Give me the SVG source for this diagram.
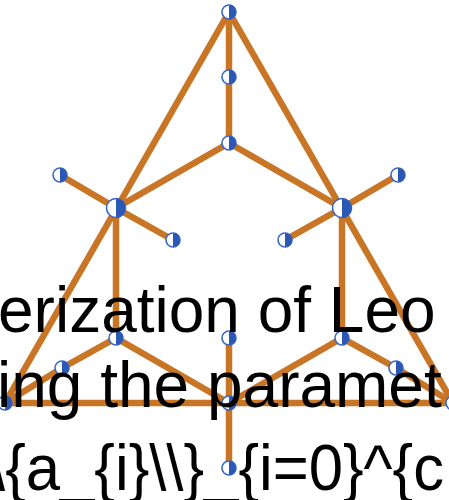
<svg xmlns="http://www.w3.org/2000/svg" width="449" height="500" viewBox="0 0 449 500">
<style>
.e{stroke:#c97526;stroke-width:6.5;fill:none;stroke-linecap:round}
.nc{fill:#fff;stroke:#3b68c4;stroke-width:1.6}
.nh{fill:#2c58b5}
.t{font-family:"Liberation Sans",Arial,sans-serif;font-size:64px;fill:#000}
</style>
<defs>
<g id="s"><circle class="nc" r="7"/><path class="nh" d="M0,-7A7,7 0 0 1 0,7Z"/></g>
<g id="b"><circle class="nc" r="9.5"/><path class="nh" d="M0,-9.5A9.5,9.5 0 0 1 0,9.5Z"/></g>
</defs>
<rect width="449" height="500" fill="#fff"/>
<g id="connectors">
<line class="e" x1="229" y1="12" x2="5" y2="403"/>
<line class="e" x1="229" y1="12" x2="453" y2="403"/>
<line class="e" x1="229" y1="12" x2="229" y2="143"/>
<line class="e" x1="229" y1="143" x2="116" y2="208"/>
<line class="e" x1="229" y1="143" x2="342" y2="208"/>
<line class="e" x1="116" y1="208" x2="60" y2="175"/>
<line class="e" x1="116" y1="208" x2="173" y2="240"/>
<line class="e" x1="342" y1="208" x2="398" y2="175"/>
<line class="e" x1="342" y1="208" x2="285" y2="240"/>
<line class="e" x1="116" y1="208" x2="116" y2="338"/>
<line class="e" x1="342" y1="208" x2="342" y2="338"/>
<polyline class="e" points="116,338 62,368 5,403"/>
<polyline class="e" points="342,338 396,368 453,403"/>
<line class="e" x1="116" y1="338" x2="229" y2="403"/>
<line class="e" x1="342" y1="338" x2="229" y2="403"/>
<line class="e" x1="229" y1="338" x2="229" y2="468"/>
<line class="e" x1="5" y1="403" x2="453" y2="403"/>
</g>
<g id="nodes">
<use id="n1" href="#s" x="229" y="12"/>
<use id="n2" href="#s" x="229" y="77"/>
<use id="n3" href="#s" x="229" y="143"/>
<use id="n4" href="#s" x="60" y="175"/>
<use id="n5" href="#b" x="116" y="208"/>
<use id="n6" href="#s" x="173" y="240"/>
<use id="n7" href="#s" x="398" y="175"/>
<use id="n8" href="#b" x="342" y="208"/>
<use id="n9" href="#s" x="285" y="240"/>
<use id="n10" href="#s" x="116" y="338"/>
<use id="n11" href="#s" x="229" y="338"/>
<use id="n12" href="#s" x="342" y="338"/>
<use id="n13" href="#s" x="62" y="368"/>
<use id="n14" href="#s" x="396" y="368"/>
<use id="n15" href="#s" x="5" y="403"/>
<use id="n16" href="#s" x="229" y="403"/>
<use id="n17" href="#s" x="453" y="403"/>
<use id="n18" href="#s" x="229" y="468"/>
</g>
<g id="caption" class="t">
<text x="-2" y="332">erization of Leo</text>
<text x="-3" y="407">ing the paramet</text>
<text x="-12" y="490" textLength="456" lengthAdjust="spacingAndGlyphs">\{a_{i}\\}_{i=0}^{c</text>
</g>
</svg>
